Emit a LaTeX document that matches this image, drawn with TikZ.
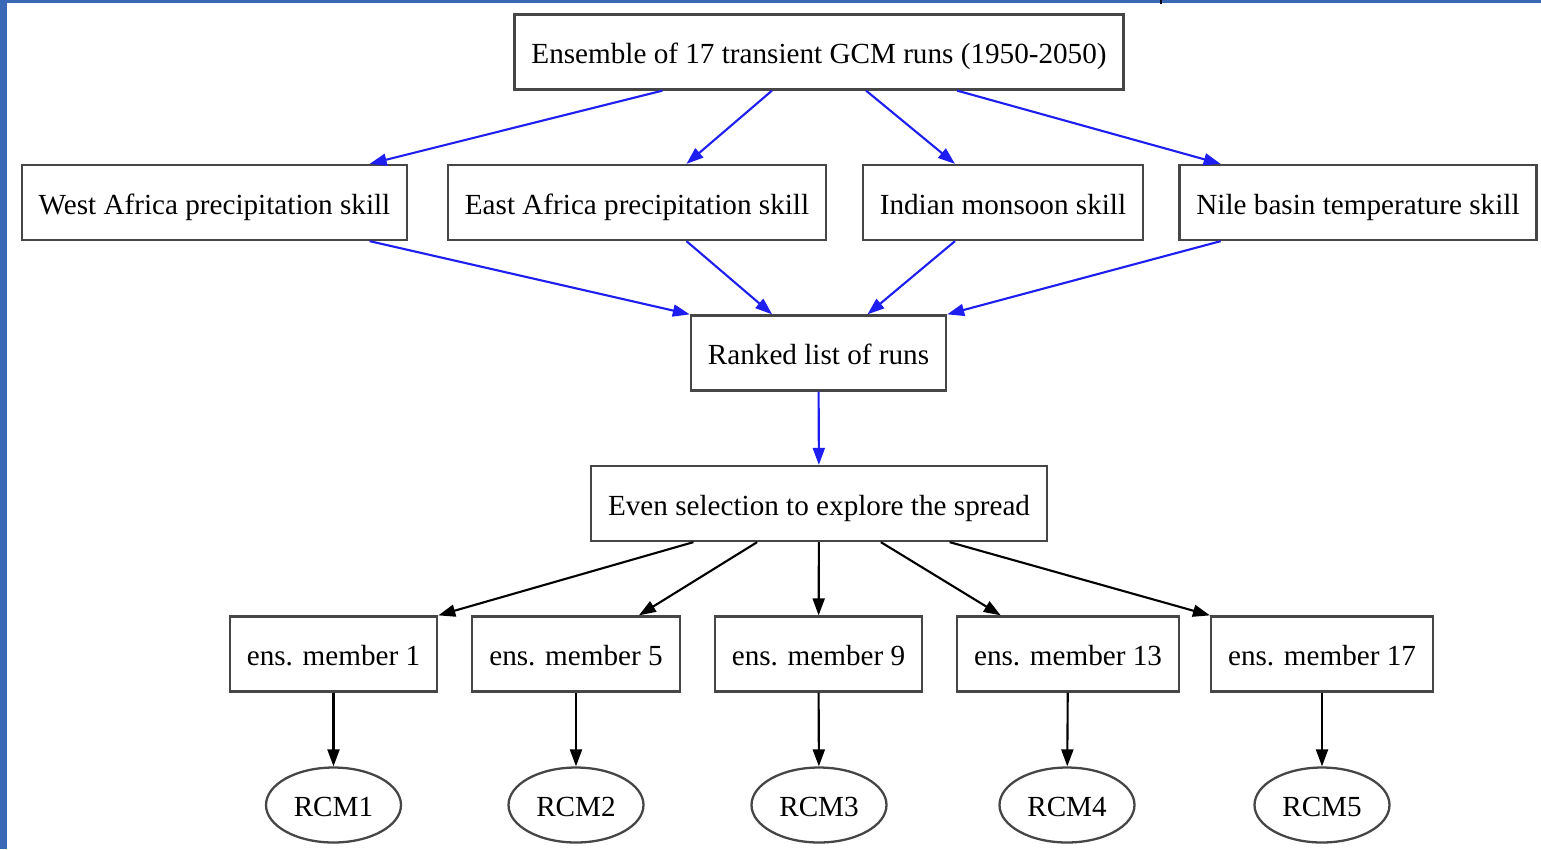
\documentclass[tikz,border=0pt]{standalone}
\usepackage{fontspec}
\setmainfont{Liberation Serif}
\usetikzlibrary{calc,shapes.geometric,arrows.meta}

\definecolor{slideblue}{RGB}{56,104,182}
\definecolor{edgeblue}{RGB}{30,30,240}
\definecolor{boxgrey}{RGB}{70,70,70}

\tikzset{
  box/.style={draw=boxgrey, line width=1.3pt, rectangle, inner xsep=0.34cm, inner ysep=0pt,
    minimum height=1.5cm, text height=14.4pt, text depth=0.8pt, font=\fontsize{16.6}{20}\selectfont},
  rcm/.style={draw=boxgrey, line width=1.3pt, ellipse, inner sep=0pt, text height=14.4pt, text depth=0.8pt,
    minimum width=2.7cm, minimum height=1.5cm, font=\fontsize{16.6}{20}\selectfont},
  blueedge/.style={draw=edgeblue, line width=1.2pt, -{Triangle[length=0.34cm,width=0.24cm]}},
  blackedge/.style={draw=black, line width=1.2pt, -{Triangle[length=0.34cm,width=0.24cm]}}
}

\begin{document}
\begin{tikzpicture}[x=0.02cm,y=-0.02cm]
                \useasboundingbox(0,0)rectangle(1541,849);
                \fill[white](0,0)rectangle(1541,849);
                \fill[slideblue](0,0)rectangle(7,849);
                \fill[slideblue](0,0)rectangle(1541,3);
                \draw[black,line width=1.2pt](1161,0)--(1161,3.5);
                % GCM ensemble and skill scores
                \node[box](ens)at(819,52){Ensemble of 17 transient GCM runs (1950-2050)};
                \node[box](west)at(214.5,202.5){West Africa precipitation skill};
                \node[box](east)at(637,202.5){East Africa precipitation skill};
                \node[box](indian)at(1003,202.5){Indian monsoon skill};
                \node[box](nile)at(1358,202.5){Nile basin temperature skill};
                \node[box](ranked)at(818.5,353){Ranked list of runs};
                \node[box](even)at(819,503.5){Even selection to explore the spread};
                % selected members
                \node[box](m1)at(333.5,654){ens. member 1};
                \node[box](m5)at(576,654){ens. member 5};
                \node[box](m9)at(818.5,654){ens. member 9};
                \node[box](m13)at(1068,654){ens. member 13};
                \node[box](m17)at(1322,654){ens. member 17};
                \node[rcm](r1)at(333.5,805){RCM1};
                \node[rcm](r2)at(576,805){RCM2};
                \node[rcm](r3)at(819,805){RCM3};
                \node[rcm](r4)at(1067,805){RCM4};
                \node[rcm](r5)at(1322,805){RCM5};
                % blue edges
                \draw[blueedge]($(ens.south west)!0.244!(ens.south east)$)--($(west.north west)!0.9!(west.north east)$);
                \draw[blueedge]($(ens.south west)!0.423!(ens.south east)$)--($(east.north west)!0.63!(east.north east)$);
                \draw[blueedge]($(ens.south west)!0.577!(ens.south east)$)--($(indian.north west)!0.33!(indian.north east)$);
                \draw[blueedge]($(ens.south west)!0.726!(ens.south east)$)--($(nile.north west)!0.118!(nile.north east)$);
                \draw[blueedge]($(west.south west)!0.9!(west.south east)$)--(ranked.north west);
                \draw[blueedge]($(east.south west)!0.63!(east.south east)$)--($(ranked.north west)!0.32!(ranked.north east)$);
                \draw[blueedge]($(indian.south west)!0.33!(indian.south east)$)--($(ranked.north west)!0.69!(ranked.north east)$);
                \draw[blueedge]($(nile.south west)!0.118!(nile.south east)$)--(ranked.north east);
                \draw[blueedge](ranked)--(even);
                % black edges
                \draw[blackedge]($(even.south west)!0.226!(even.south east)$)--(m1.north east);
                \draw[blackedge]($(even.south west)!0.365!(even.south east)$)--($(m5.north west)!0.8!(m5.north east)$);
                \draw[blackedge](even)--(m9);
                \draw[blackedge]($(even.south west)!0.635!(even.south east)$)--($(m13.north west)!0.2!(m13.north east)$);
                \draw[blackedge]($(even.south west)!0.785!(even.south east)$)--(m17.north west);
                \foreach \m/\r in {m1/r1,m5/r2,m9/r3,m13/r4,m17/r5}
                  \draw[blackedge](\m)--(\r);
            \end{tikzpicture}
\end{document}
